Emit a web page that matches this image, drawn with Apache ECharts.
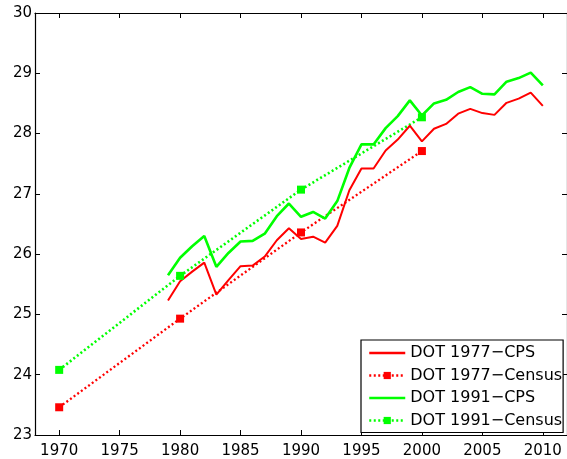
<!DOCTYPE html>
<html>
<head>
<meta charset="utf-8">
<style>
  html, body { margin: 0; padding: 0; background: #fff; }
  #chart { width: 567px; height: 459px; }
</style>
<script src="https://cdn.jsdelivr.net/npm/echarts@6/dist/echarts.min.js"></script>
</head>
<body>
<div id="chart"></div>
<script>
// Annual CPS estimates, 1979-2010
const cpsYears = [1979, 1980, 1981, 1982, 1983, 1984, 1985, 1986, 1987, 1988, 1989,
  1990, 1991, 1992, 1993, 1994, 1995, 1996, 1997, 1998, 1999,
  2000, 2001, 2002, 2003, 2004, 2005, 2006, 2007, 2008, 2009, 2010];
const dot1977Cps = [25.23, 25.55, 25.71, 25.86, 25.33, 25.57, 25.80, 25.81, 25.96, 26.23, 26.43,
  26.25, 26.29, 26.19, 26.47, 27.06, 27.42, 27.42, 27.72, 27.90, 28.13,
  27.87, 28.08, 28.16, 28.33, 28.41, 28.34, 28.31, 28.51, 28.58, 28.68, 28.46];
const dot1991Cps = [25.65, 25.94, 26.13, 26.30, 25.79, 26.02, 26.21, 26.22, 26.34, 26.63, 26.84,
  26.62, 26.70, 26.59, 26.88, 27.43, 27.82, 27.82, 28.09, 28.29, 28.55,
  28.30, 28.50, 28.56, 28.69, 28.77, 28.66, 28.65, 28.86, 28.92, 29.01, 28.80];

// Decennial census estimates
const censusYears = [1970, 1980, 1990, 2000];
const dot1977Census = [23.46, 24.93, 26.36, 27.71];
const dot1991Census = [24.08, 25.64, 27.07, 28.27];

const xTicks = [1970, 1975, 1980, 1985, 1990, 1995, 2000, 2005, 2010];

const RED = '#ff0000';
const GREEN = '#00ff00';
const FONT = 'DejaVu Sans';

const pairs = (xs, ys) => xs.map((x, i) => [x, ys[i]]);

const baseX = {
  type: 'value', min: 1968, max: 2012,
  splitLine: { show: false },
  axisLine: { onZero: false, lineStyle: { color: '#000', width: 1.2 } },
  axisTick: { inside: true, length: 5, customValues: xTicks, lineStyle: { color: '#000' } }
};
const baseY = {
  type: 'value', min: 23, max: 30, interval: 1,
  splitLine: { show: false },
  axisLine: { show: true, onZero: false, lineStyle: { color: '#000', width: 1.2 } },
  axisTick: { show: true, inside: true, length: 5, lineStyle: { color: '#000' } }
};

const chart = echarts.init(document.getElementById('chart'), null, { renderer: 'canvas' });
chart.setOption({
  animation: false,
  backgroundColor: '#fff',
  grid: { left: 35, right: -4, top: 13, bottom: 23, containLabel: false },
  xAxis: [
    Object.assign({}, baseX, {
      position: 'bottom',
      axisLabel: {
        customValues: xTicks, color: '#000', fontFamily: FONT, fontSize: 15, margin: 9,
        formatter: v => String(v)
      }
    }),
    Object.assign({}, baseX, { position: 'top', axisLabel: { show: false } })
  ],
  yAxis: [
    Object.assign({}, baseY, {
      position: 'left',
      axisLabel: { color: '#000', fontFamily: FONT, fontSize: 15, margin: 3 }
    }),
    Object.assign({}, baseY, { position: 'right', axisLabel: { show: false } })
  ],
  legend: {
    orient: 'vertical',
    left: 361, top: 340,
    padding: [5, 1, 4, 7],
    itemWidth: 36, itemHeight: 9, itemGap: 6.5,
    borderColor: '#000', borderWidth: 1.2, borderRadius: 0,
    backgroundColor: '#fff',
    lineStyle: { width: 2.5 },
    textStyle: { color: '#000', fontFamily: FONT, fontSize: 16, padding: [0, 0, 0, 0] },
    data: [
      { name: 'DOT 1977\u2212CPS', itemStyle: { opacity: 0 } },
      { name: 'DOT 1977\u2212Census' },
      { name: 'DOT 1991\u2212CPS', itemStyle: { opacity: 0 } },
      { name: 'DOT 1991\u2212Census' }
    ]
  },
  series: [
    {
      name: 'DOT 1977\u2212Census', type: 'line',
      data: pairs(censusYears, dot1977Census),
      symbol: 'rect', symbolSize: 8,
      itemStyle: { color: RED },
      lineStyle: { color: RED, width: 2.3, type: [2, 2.5] }
    },
    {
      name: 'DOT 1991\u2212Census', type: 'line',
      data: pairs(censusYears, dot1991Census),
      symbol: 'rect', symbolSize: 8,
      itemStyle: { color: GREEN },
      lineStyle: { color: GREEN, width: 2.6, type: [2, 2.5] }
    },
    {
      name: 'DOT 1977\u2212CPS', type: 'line',
      data: pairs(cpsYears, dot1977Cps),
      symbol: 'none',
      itemStyle: { color: RED },
      lineStyle: { color: RED, width: 2 }
    },
    {
      name: 'DOT 1991\u2212CPS', type: 'line',
      data: pairs(cpsYears, dot1991Cps),
      symbol: 'none',
      itemStyle: { color: GREEN },
      lineStyle: { color: GREEN, width: 2.6 }
    }
  ]
});
</script>
</body>
</html>
